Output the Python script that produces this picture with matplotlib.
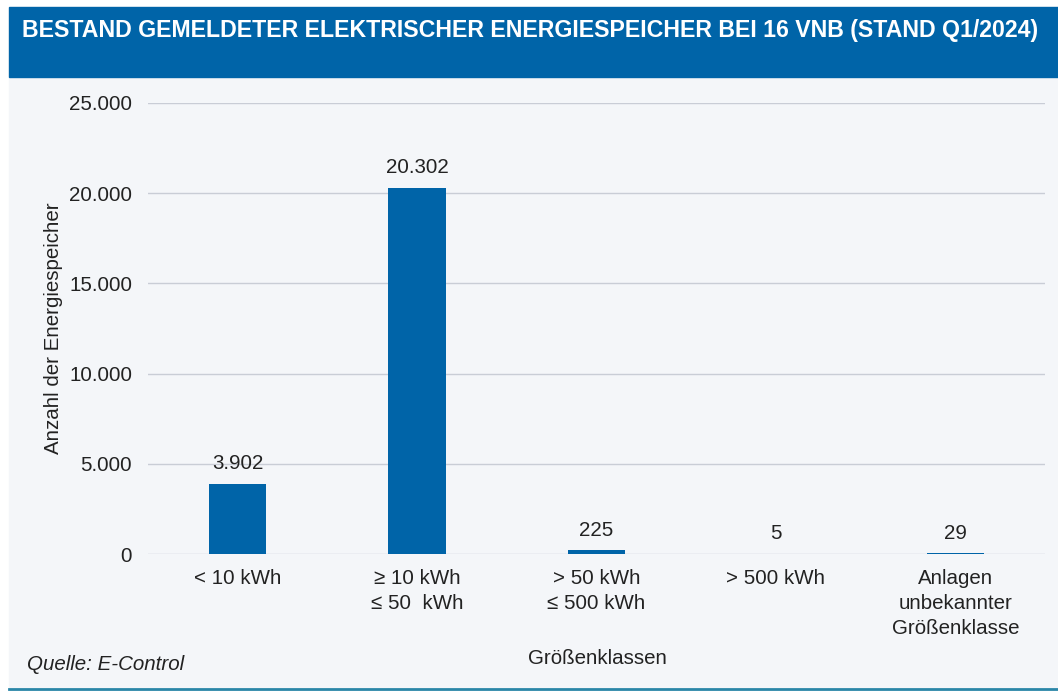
import matplotlib.pyplot as plt
from matplotlib.patches import Rectangle
from matplotlib.ticker import FuncFormatter
from matplotlib.lines import Line2D

categories = ["< 10 kWh", "≥ 10 kWh\n≤ 50  kWh", "> 50 kWh\n≤ 500 kWh",
              "> 500 kWh", "Anlagen\nunbekannter\nGrößenklasse"]
values = [3902, 20302, 225, 5, 29]
value_labels = ["3.902", "20.302", "225", "5", "29"]
yticks = [0, 5000, 10000, 15000, 20000, 25000]

W, H = 1058, 691
BLUE = "#0064a8"
BG = "#f4f6f9"
FS = 14.8

plt.rcParams["font.family"] = ["Liberation Sans", "DejaVu Sans"]

fig = plt.figure(figsize=(W / 100, H / 100), dpi=100)
fig.patch.set_facecolor("white")

# Hintergrund und Kopfzeile
fig.patches.append(Rectangle((9 / W, 0), 1 - 9 / W, 1 - 77 / H,
                             transform=fig.transFigure, color=BG, zorder=-2))
fig.patches.append(Rectangle((9 / W, 1 - 77 / H), 1 - 9 / W, 70 / H,
                             transform=fig.transFigure, color=BLUE, zorder=-2))
fig.lines.append(Line2D([9 / W, 1], [1 - 689 / H, 1 - 689 / H],
                        transform=fig.transFigure, color="#2a86a8", lw=2, zorder=-1))
fig.text(22 / W, 1 - 31 / H,
         "BESTAND GEMELDETER ELEKTRISCHER ENERGIESPEICHER BEI 16 VNB (STAND Q1/2024)",
         color="white", fontsize=16.7, fontweight="bold", va="center", ha="left")

ax = fig.add_axes([148 / W, 1 - 554 / H, (1045 - 148) / W, (554 - 103) / H])
ax.set_facecolor("none")

x = list(range(len(categories)))
ax.bar(x, values, width=0.32, color=BLUE, linewidth=0, zorder=3)
for xi, v, lab in zip(x, values, value_labels):
    ax.annotate(lab, (xi, v), xytext=(0, 7.5), textcoords="offset points",
                ha="center", va="bottom", fontsize=FS, color="#222222")

ax.set_xlim(-0.5, len(categories) - 0.5)
ax.set_ylim(0, 25000)
ax.set_yticks(yticks)
ax.yaxis.set_major_formatter(FuncFormatter(lambda v, p: f"{int(v):,}".replace(",", ".")))
ax.grid(axis="y", color="#c9cdd6", lw=1, zorder=0)
ax.set_xticks(x)
ax.set_xticklabels(categories, fontsize=FS, color="#222222", linespacing=1.38)
ax.tick_params(axis="y", labelsize=FS, labelcolor="#222222", length=0, pad=11.5)
ax.tick_params(axis="x", length=0, pad=11)
for s in ax.spines.values():
    s.set_visible(False)

ax.set_ylabel("Anzahl der Energiespeicher", fontsize=FS, color="#222222", labelpad=4)
fig.text(597 / W, 1 - 659 / H, "Größenklassen", fontsize=FS, color="#222222",
         ha="center", va="center")
fig.text(27 / W, 1 - 664 / H, "Quelle: E-Control", fontsize=FS, style="italic",
         color="#222222", ha="left", va="center")

fig.savefig("out.png", dpi=100, facecolor=fig.get_facecolor())
